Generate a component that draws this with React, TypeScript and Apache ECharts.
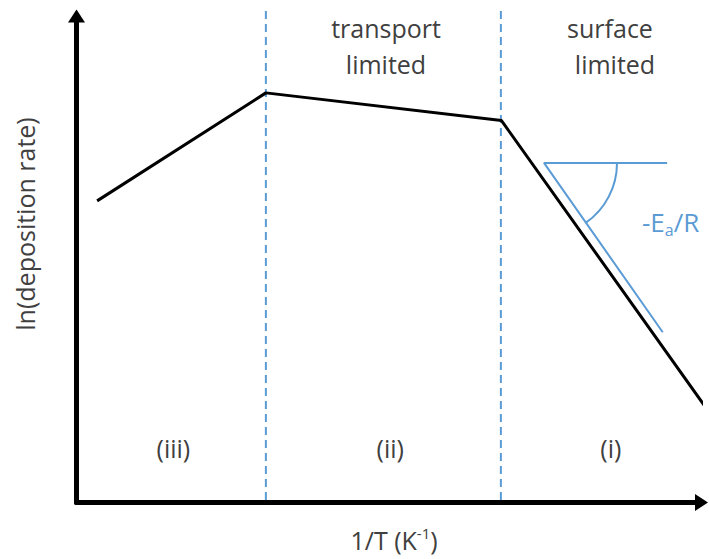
import React, { useEffect, useRef } from "react";
import * as echarts from "echarts";

// Schematic curve: ln(deposition rate) vs 1/T (arbitrary units 0..100)
const curveX = [3.3, 30.3, 68.0, 101.2];
const curveY = [62.0, 84.2, 78.5, 18.6];
// Regime boundaries (dashed)
const dividerX = [30.3, 67.9];
const dividerYRange = [0.5, 101.3];
// Activation-energy slope annotation: horizontal end, vertex, diagonal end
const slopeX = [94.5, 74.8, 93.8];
const slopeY = [69.8, 69.8, 35.0];
// Region labels
const regionLabels = ["(iii)", "(ii)", "(i)"];
const regionLabelX = [15.5, 50.2, 85.5];
const regionLabelY = 11.2;

const BLUE = "#5b9bd5";
const GRAY = "#404040";
const FONT = "'Open Sans', 'Noto Sans', sans-serif";

export default function App() {
  const ref = useRef<HTMLDivElement>(null);

  useEffect(() => {
    if (!ref.current) return;
    const chart = echarts.init(ref.current, null, { renderer: "svg" });

    const axisCommon = {
      type: "value" as const,
      min: 0,
      max: 100,
      axisLine: {
        show: true,
        symbol: ["none", "triangle"],
        symbolSize: [17, 13],
        lineStyle: { color: "#000", width: 5 },
      },
      axisTick: { show: false },
      axisLabel: { show: false },
      splitLine: { show: false },
    };

    const dividerSeries = dividerX.map((x, i) => ({
      type: "line",
      name: "divider" + i,
      data: [
        [x, dividerYRange[0]],
        [x, dividerYRange[1]],
      ],
      symbol: "none",
      clip: false,
      lineStyle: { color: BLUE, width: 2, type: [8, 5] },
      z: 1,
    }));

    chart.setOption({
      animation: false,
      grid: { left: 76.5, right: 7.5, top: 16, bottom: 56.5 },
      xAxis: { ...axisCommon },
      yAxis: { ...axisCommon },
      series: [
        ...dividerSeries,
        {
          type: "line",
          name: "rate",
          data: curveX.map((x, i) => [x, curveY[i]]),
          symbol: "none",
          clip: false,
          lineStyle: { color: "#000", width: 3 },
          z: 3,
        },
        {
          type: "line",
          name: "slope",
          data: slopeX.map((x, i) => [x, slopeY[i]]),
          symbol: "none",
          clip: false,
          lineStyle: { color: BLUE, width: 2 },
          z: 2,
        },
      ],
    });

    const v = chart.convertToPixel({ gridIndex: 0 }, [slopeX[1], slopeY[1]]) as number[];
    const d = chart.convertToPixel({ gridIndex: 0 }, [slopeX[2], slopeY[2]]) as number[];
    const endAngle = Math.atan2(d[1] - v[1], d[0] - v[0]);

    const labelText = (text: string, x: number, y: number, size = 25, extra: any = {}) => ({
      type: "text",
      x,
      y,
      style: {
        text,
        fill: GRAY,
        fontSize: size,
        fontFamily: FONT,
        fontWeight: 400,
        align: "center",
        verticalAlign: "middle",
        ...extra,
      },
      z: 10,
    });

    const regionTexts = regionLabels.map((t, i) => {
      const p = chart.convertToPixel({ gridIndex: 0 }, [regionLabelX[i], regionLabelY]) as number[];
      return labelText(t, p[0], p[1]);
    });

    chart.setOption({
      graphic: [
        {
          type: "arc",
          shape: { cx: v[0], cy: v[1], r: 73, startAngle: 0, endAngle, clockwise: true },
          style: { stroke: BLUE, lineWidth: 2, fill: "none" },
          z: 5,
        },
        labelText("transport", 386, 28),
        labelText("limited", 386, 64),
        labelText("surface", 610, 28),
        labelText("limited", 615, 64),
        ...regionTexts,
        {
          type: "text",
          x: 642,
          y: 222,
          style: {
            text: "-E{s|a}/R",
            fill: BLUE,
            fontSize: 26,
            fontFamily: FONT,
            fontWeight: 400,
            align: "left",
            verticalAlign: "middle",
            rich: {
              s: {
                fill: BLUE,
                fontSize: 16,
                fontFamily: FONT,
                fontWeight: 400,
                lineHeight: 12,
                verticalAlign: "bottom",
              },
            },
            lineHeight: 32,
          },
          z: 10,
        },
        {
          type: "text",
          x: 394,
          y: 540,
          style: {
            text: "1/T (K{s|-1})",
            fill: GRAY,
            fontSize: 25,
            fontFamily: FONT,
            fontWeight: 400,
            align: "center",
            verticalAlign: "middle",
            lineHeight: 30,
            rich: {
              s: {
                fill: GRAY,
                fontSize: 15,
                fontFamily: FONT,
                fontWeight: 400,
                lineHeight: 19,
                verticalAlign: "top",
              },
            },
          },
          z: 10,
        },
        {
          type: "text",
          x: 25,
          y: 224,
          rotation: Math.PI / 2,
          style: {
            text: "ln(deposition rate)",
            fill: GRAY,
            fontSize: 25,
            fontFamily: FONT,
            fontWeight: 400,
            align: "center",
            verticalAlign: "middle",
          },
          z: 10,
        },
      ],
    });

    return () => chart.dispose();
  }, []);

  return (
    <div
      ref={ref}
      style={{ position: "fixed", left: 0, top: 0, width: 709, height: 559, background: "#fff" }}
    />
  );
}
